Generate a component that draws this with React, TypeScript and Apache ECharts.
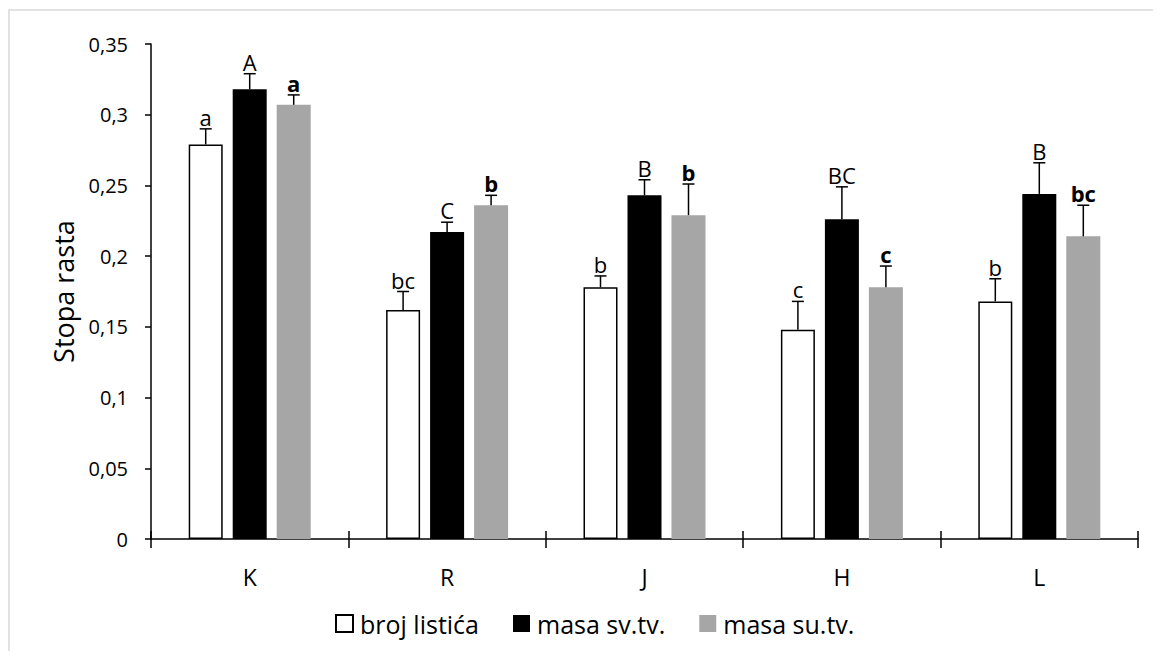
import React, { useEffect, useRef } from "react";
import * as echarts from "echarts";

const categories = ["K", "R", "J", "H", "L"];
const brojListica = [0.279, 0.162, 0.178, 0.148, 0.168];
const brojListicaErr = [0.011, 0.013, 0.008, 0.020, 0.016];
const masaSv = [0.318, 0.217, 0.243, 0.226, 0.244];
const masaSvErr = [0.011, 0.007, 0.011, 0.023, 0.022];
const masaSu = [0.307, 0.236, 0.229, 0.178, 0.214];
const masaSuErr = [0.007, 0.007, 0.022, 0.015, 0.022];
const brojLabels = ["a", "bc", "b", "c", "b"];
const masaSvLabels = ["A", "C", "B", "BC", "B"];
const masaSuLabels = ["a", "b", "b", "c", "bc"];
const seriesNames = ["broj listića", "masa sv.tv.", "masa su.tv."];
const yTicks = { min: 0, max: 0.35, interval: 0.05 };

const FONT = "'Open Sans', 'Noto Sans', sans-serif";
const BAR_W = 34;
const BAR_GAP = 10;

function errorSeries(k: number, values: number[], errs: number[], labels: string[], bold: boolean) {
  const data = values.map((v, i) => [i, v, errs[i]]);
  return {
    type: "custom",
    name: "err" + k,
    xAxisIndex: 0,
    yAxisIndex: 0,
    z: 5,
    silent: true,
    data,
    encode: { x: 0, y: 1 },
    renderItem: (params: any, api: any) => {
      const idx = api.value(0);
      const v = api.value(1);
      const e = api.value(2);
      const label = labels[params.dataIndex];
      const base = api.coord([idx, v]);
      const top = api.coord([idx, v + e]);
      const x = base[0] + (k - 1) * (BAR_W + BAR_GAP);
      const capHalf = 6;
      return {
        type: "group",
        children: [
          {
            type: "line",
            shape: { x1: x, y1: base[1], x2: x, y2: top[1] },
            style: { stroke: "#000", lineWidth: 1.5 },
          },
          {
            type: "line",
            shape: { x1: x - capHalf, y1: top[1], x2: x + capHalf, y2: top[1] },
            style: { stroke: "#000", lineWidth: 1.5 },
          },
          {
            type: "text",
            x: x,
            y: top[1] - 1,
            style: {
              text: label,
              fill: "#000",
              font: (bold ? "bold " : "") + "22px " + FONT,
              align: "center",
              verticalAlign: "bottom",
            },
          },
        ],
      };
    },
  };
}

export default function App() {
  const ref = useRef<HTMLDivElement>(null);
  useEffect(() => {
    if (!ref.current) return;
    const chart = echarts.init(ref.current, null, { renderer: "svg" });
    const option: any = {
      animation: false,
      backgroundColor: "#fff",
      graphic: [
        {
          type: "rect",
          shape: { x: 1, y: 2, width: 1400, height: 900 },
          style: { fill: "none", stroke: "#d9d9d9", lineWidth: 1.5 },
          silent: true,
          z: -10,
        },
      ],
      grid: { left: 143, right: 15, top: 36, bottom: 112, containLabel: false },
      legend: {
        data: seriesNames,
        left: 322,
        top: 598,
        itemWidth: 17,
        itemHeight: 17,
        itemGap: 34,
        icon: "rect",
        textStyle: { fontSize: 25, fontFamily: FONT, color: "#000", padding: [0, 0, 0, 2] },
      },
      xAxis: [
        {
          type: "category",
          data: categories,
          axisLine: { lineStyle: { color: "#000", width: 1.5 } },
          axisTick: { show: true, length: 9, lineStyle: { color: "#000", width: 1.5 } },
          axisLabel: { fontSize: 23, fontFamily: FONT, color: "#000", margin: 26 },
        },
        {
          type: "category",
          data: categories,
          position: "bottom",
          axisLine: { show: false },
          axisTick: { show: true, inside: true, length: 8, lineStyle: { color: "#000", width: 1.5 } },
          axisLabel: { show: false },
        },
      ],
      yAxis: {
        type: "value",
        min: yTicks.min,
        max: yTicks.max,
        interval: yTicks.interval,
        name: "Stopa rasta",
        nameLocation: "middle",
        nameRotate: 90,
        nameGap: 74,
        nameTextStyle: { fontSize: 27, fontFamily: FONT, color: "#000" },
        axisLine: { show: true, lineStyle: { color: "#000", width: 1.5 } },
        axisTick: { show: true, length: 6, lineStyle: { color: "#000", width: 1.5 } },
        splitLine: { show: false },
        axisLabel: {
          fontSize: 20,
          fontFamily: FONT,
          color: "#000",
          margin: 23,
          formatter: (v: number) => String(Math.round(v * 100) / 100).replace(".", ","),
        },
      },
      series: [
        {
          type: "bar",
          name: seriesNames[0],
          data: brojListica,
          barWidth: BAR_W,
          barGap: (BAR_GAP / BAR_W) * 100 + "%",
          itemStyle: { color: "#fff", borderColor: "#000", borderWidth: 1.5 },
        },
        {
          type: "bar",
          name: seriesNames[1],
          data: masaSv,
          barWidth: BAR_W,
          barGap: (BAR_GAP / BAR_W) * 100 + "%",
          itemStyle: { color: "#000" },
        },
        {
          type: "bar",
          name: seriesNames[2],
          data: masaSu,
          barWidth: BAR_W,
          barGap: (BAR_GAP / BAR_W) * 100 + "%",
          itemStyle: { color: "#a6a6a6" },
        },
        errorSeries(0, brojListica, brojListicaErr, brojLabels, false),
        errorSeries(1, masaSv, masaSvErr, masaSvLabels, false),
        errorSeries(2, masaSu, masaSuErr, masaSuLabels, true),
      ],
    };
    chart.setOption(option);
    return () => chart.dispose();
  }, []);
  return <div ref={ref} style={{ width: 1145, height: 643 }} />;
}
